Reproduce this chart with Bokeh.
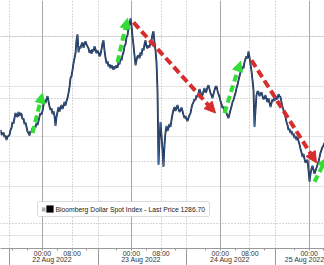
from bokeh.plotting import figure
from bokeh.models import (Range1d, FixedTicker, Grid, Arrow, NormalHead, Label,
                          BoxAnnotation, ColumnDataSource, LinearAxis)
from bokeh.embed import file_html
from bokeh.resources import INLINE

# hours since 22 Aug 2022 00:00
hours = [-11.34, -11.07, -10.80, -10.53, -10.26, -9.99, -9.72, -9.45, -9.18, -8.91,
         -8.64, -8.37, -8.10, -7.83, -7.56, -7.29, -7.02, -6.75, -6.48, -6.21,
         -5.94, -5.67, -5.40, -5.13, -4.86, -4.59, -4.32, -4.05, -3.78, -3.51,
         -3.24, -2.97, -2.70, -2.43, -2.16, -1.89, -1.62, -1.35, -1.08, -0.81,
         -0.54, -0.27, 0.00, 0.27, 0.54, 0.81, 1.08, 1.35, 1.62, 1.89,
         2.16, 2.43, 2.70, 2.97, 3.24, 3.51, 3.78, 4.05, 4.32, 4.59,
         4.86, 5.13, 5.40, 5.67, 5.94, 6.21, 6.48, 6.75, 7.02, 7.29,
         7.56, 7.83, 8.10, 8.37, 8.64, 8.91, 9.18, 9.45, 9.72, 9.99,
         10.26, 10.53, 10.80, 11.07, 11.34, 11.61, 11.88, 12.15, 12.42, 12.69,
         12.96, 13.23, 13.50, 13.77, 14.04, 14.31, 14.58, 14.85, 15.12, 15.39,
         15.66, 15.93, 16.20, 16.47, 16.74, 17.01, 17.28, 17.55, 17.82, 18.09,
         18.36, 18.63, 18.90, 19.17, 19.44, 19.71, 19.98, 20.25, 20.52, 20.79,
         21.06, 21.33, 21.60, 21.87, 22.14, 22.41, 22.68, 22.95, 23.22, 23.49,
         23.76, 24.03, 24.30, 24.57, 24.84, 25.11, 25.38, 25.65, 25.92, 26.19,
         26.46, 26.73, 27.00, 27.27, 27.54, 27.81, 28.08, 28.35, 28.62, 28.89,
         29.16, 29.43, 29.70, 29.97, 30.24, 30.51, 30.78, 31.05, 31.32, 31.59,
         31.86, 32.13, 32.40, 32.67, 32.94, 33.21, 33.48, 33.75, 34.02, 34.29,
         34.56, 34.83, 35.10, 35.37, 35.64, 35.91, 36.18, 36.45, 36.72, 36.99,
         37.26, 37.53, 37.80, 38.07, 38.34, 38.61, 38.88, 39.15, 39.42, 39.69,
         39.96, 40.23, 40.50, 40.77, 41.04, 41.31, 41.58, 41.85, 42.12, 42.39,
         42.66, 42.93, 43.20, 43.47, 43.74, 44.01, 44.28, 44.55, 44.82, 45.09,
         45.36, 45.63, 45.90, 46.17, 46.44, 46.71, 46.98, 47.25, 47.52, 47.79,
         48.06, 48.33, 48.60, 48.87, 49.14, 49.41, 49.68, 49.95, 50.22, 50.49,
         50.76, 51.03, 51.30, 51.57, 51.84, 52.11, 52.38, 52.65, 52.92, 53.19,
         53.46, 53.73, 54.00, 54.27, 54.54, 54.81, 55.08, 55.35, 55.62, 55.89,
         56.16, 56.43, 56.70, 56.97, 57.24, 57.51, 57.78, 58.05, 58.32, 58.59,
         58.86, 59.13, 59.40, 59.67, 59.94, 60.21, 60.48, 60.75, 61.02, 61.29,
         61.56, 61.83, 62.10, 62.37, 62.64, 62.91, 63.18, 63.45, 63.72, 63.99,
         64.26, 64.53, 64.80, 65.07, 65.34, 65.61, 65.88, 66.15, 66.42, 66.69,
         66.96, 67.23, 67.50, 67.77, 68.04, 68.31, 68.58, 68.85, 69.12, 69.39,
         69.66, 69.93, 70.20, 70.47, 70.74, 71.01, 71.28, 71.55, 71.82, 72.09,
         72.36, 72.63, 72.90, 73.17, 73.44, 73.71, 73.98, 74.25, 74.52, 74.79,
         75.06, 75.33, 75.60, 75.87, 76.14]
prices = [1286.25, 1286.05, 1286.09, 1286.15, 1285.97, 1286.03, 1285.85, 1285.99, 1286.01, 1286.05,
          1286.25, 1286.33, 1286.57, 1286.51, 1286.73, 1286.93, 1286.85, 1286.77, 1286.97, 1286.81,
          1286.93, 1286.89, 1286.69, 1286.71, 1286.49, 1286.55, 1286.37, 1286.19, 1286.13, 1286.03,
          1286.21, 1286.15, 1286.33, 1286.27, 1286.41, 1286.35, 1286.53, 1286.45, 1286.61, 1286.79,
          1286.93, 1286.87, 1287.01, 1287.25, 1287.45, 1287.33, 1287.49, 1287.61, 1287.41, 1287.19,
          1287.05, 1287.13, 1286.89, 1287.01, 1286.81, 1286.41, 1286.77, 1286.97, 1287.17, 1286.99,
          1287.13, 1287.25, 1287.09, 1287.21, 1287.37, 1287.23, 1287.41, 1287.53, 1287.73, 1287.97,
          1288.33, 1288.41, 1288.65, 1288.93, 1289.13, 1289.33, 1289.85, 1290.09, 1289.37, 1289.61,
          1289.53, 1289.69, 1289.77, 1289.55, 1289.69, 1289.81, 1289.69, 1289.61, 1289.53, 1289.35,
          1289.45, 1289.31, 1289.49, 1289.41, 1289.61, 1289.49, 1289.33, 1289.43, 1289.37, 1289.21,
          1289.29, 1289.49, 1289.73, 1289.85, 1289.45, 1289.15, 1288.93, 1289.01, 1288.81, 1288.89,
          1288.73, 1288.85, 1288.77, 1288.67, 1288.81, 1288.73, 1288.85, 1288.75, 1288.97, 1288.89,
          1289.13, 1289.05, 1289.25, 1289.37, 1289.61, 1289.69, 1289.97, 1290.05, 1290.33, 1290.49,
          1290.73, 1290.45, 1290.01, 1289.65, 1289.25, 1288.85, 1289.05, 1289.21, 1289.25, 1289.13,
          1289.37, 1289.25, 1289.53, 1289.45, 1289.69, 1289.85, 1289.61, 1289.53, 1289.65, 1289.57,
          1289.77, 1289.85, 1290.09, 1290.21, 1289.77, 1289.45, 1288.97, 1287.85, 1284.85, 1285.85,
          1286.57, 1286.05, 1285.45, 1284.77, 1285.65, 1286.15, 1286.41, 1286.21, 1286.33, 1286.49,
          1286.37, 1286.65, 1286.89, 1287.05, 1287.17, 1287.01, 1287.13, 1287.25, 1287.09, 1286.97,
          1287.05, 1287.15, 1287.01, 1286.85, 1286.73, 1286.81, 1286.69, 1286.61, 1286.73, 1286.85,
          1286.93, 1287.13, 1287.29, 1287.37, 1287.49, 1287.45, 1287.65, 1287.57, 1287.73, 1287.89,
          1287.77, 1287.61, 1287.65, 1287.81, 1287.93, 1287.75, 1287.81, 1287.97, 1288.05, 1287.89,
          1287.73, 1287.65, 1287.53, 1287.69, 1287.85, 1287.97, 1288.01, 1287.83, 1287.69, 1287.57,
          1287.41, 1287.29, 1287.13, 1287.19, 1287.01, 1287.09, 1286.93, 1286.81, 1286.73, 1286.89,
          1287.05, 1287.19, 1287.37, 1287.45, 1287.61, 1287.73, 1287.93, 1288.05, 1288.25, 1288.41,
          1288.57, 1288.65, 1288.81, 1288.73, 1288.97, 1289.11, 1289.21, 1289.13, 1289.41, 1289.17,
          1288.89, 1288.61, 1288.25, 1287.85, 1286.37, 1287.05, 1287.65, 1287.81, 1287.77, 1287.61,
          1287.69, 1287.77, 1287.61, 1287.49, 1287.53, 1287.65, 1287.49, 1287.37, 1287.53, 1287.35,
          1287.17, 1287.33, 1287.49, 1287.41, 1287.53, 1287.45, 1287.61, 1287.49, 1287.69, 1287.61,
          1287.57, 1287.37, 1287.17, 1287.05, 1286.89, 1286.77, 1286.57, 1286.45, 1286.25, 1286.29,
          1286.13, 1286.21, 1286.05, 1286.11, 1285.93, 1286.01, 1285.85, 1285.97, 1285.81, 1285.67,
          1285.49, 1285.35, 1285.17, 1285.29, 1285.09, 1284.93, 1285.01, 1285.05, 1284.65, 1284.17,
          1284.49, 1284.69, 1284.81, 1284.65, 1284.49, 1284.61, 1284.73, 1284.85, 1284.97, 1285.15,
          1285.33, 1285.45, 1285.57, 1285.63, 1285.73]

tick_hours = [0, 8, 24, 32, 48, 56, 72]
tick_labels = ["00:00", "08:00", "00:00", "08:00", "00:00", "08:00", "00:00"]
minor_hours = [-8, -4, 4, 12, 20, 28, 36, 44, 52, 60, 68, 76]
date_hours = [2.6, 26.6, 50.6, 74.6]
date_labels = ["22 Aug 2022", "23 Aug 2022", "24 Aug 2022", "25 Aug 2022"]
price_grid = [1282.5, 1285.0, 1287.5, 1290.0]
day_lines = [0, 24, 48, 72]
dotted_lines = [-9, 8, 15, 32, 39, 56, 63]
separators = [-9, 15, 39, 63]

up_x0 = [-2.70, 20.25, 49.14, 73.44]
up_y0 = [1286.13, 1288.97, 1286.93, 1284.17]
up_x1 = [0.00, 22.95, 53.46, 76.80]
up_y1 = [1287.73, 1290.73, 1289.01, 1285.15]
dn_x0 = [24.57, 56.43]
dn_y0 = [1290.57, 1289.05]
dn_x1 = [46.71, 73.98]
dn_y1 = [1286.93, 1284.93]

legend_text = "Bloomberg Dollar Spot Index - Last Price 1286.70"

FONT = "Liberation Sans"
AXIS_GREY = "#9a9a9a"

p = figure(width=324, height=265, output_backend="svg", toolbar_location=None,
           x_range=Range1d(-11.34, 76.14), y_range=Range1d(1281.49, 1291.45),
           x_axis_location="below", y_axis_location=None,
           min_border_left=0, min_border_right=0, min_border_top=0, min_border_bottom=0)
p.outline_line_color = None
p.background_fill_color = "white"
p.border_fill_color = "white"
p.xgrid.visible = False

# grids
p.add_layout(Grid(dimension=1, ticker=FixedTicker(ticks=price_grid),
                  grid_line_color="#b0b0b0", grid_line_dash="1 2", grid_line_width=1))
p.add_layout(Grid(dimension=0, ticker=FixedTicker(ticks=dotted_lines),
                  grid_line_color="#b0b0b0", grid_line_dash="1 2", grid_line_width=1))
p.add_layout(Grid(dimension=0, ticker=FixedTicker(ticks=day_lines),
                  grid_line_color="#a8a8a8", grid_line_width=1))

# time-of-day axis
ax = p.xaxis[0]
ax.ticker = FixedTicker(ticks=tick_hours, minor_ticks=minor_hours)
ax.major_label_overrides = {h: t for h, t in zip(tick_hours, tick_labels)}
ax.axis_line_color = AXIS_GREY
ax.major_tick_line_color = AXIS_GREY
ax.minor_tick_line_color = AXIS_GREY
ax.major_tick_out = 2
ax.major_tick_in = 0
ax.minor_tick_out = 2
ax.minor_tick_in = 0
ax.major_label_standoff = -1
ax.major_label_text_font = FONT
ax.major_label_text_font_size = "7px"
ax.major_label_text_color = "#333333"

# date axis (day separators drawn as its minor ticks)
ax2 = LinearAxis(ticker=FixedTicker(ticks=date_hours, minor_ticks=separators),
                 major_label_overrides={h: t for h, t in zip(date_hours, date_labels)},
                 axis_line_color=None, major_tick_line_color=None,
                 major_tick_in=0, major_tick_out=6,
                 minor_tick_line_color=AXIS_GREY, minor_tick_in=11, minor_tick_out=6,
                 major_label_standoff=-10, major_label_text_font=FONT,
                 major_label_text_font_size="7px", major_label_text_color="#333333")
p.add_layout(ax2, "below")

# price line
src = ColumnDataSource(dict(h=hours, p=prices))
p.line("h", "p", source=src, line_color="#0f1c36", line_width=1.8)
p.line("h", "p", source=src, line_color="#4f7fbf", line_width=0.6)

# arrows
up_src = ColumnDataSource(dict(x0=up_x0, y0=up_y0, x1=up_x1, y1=up_y1))
dn_src = ColumnDataSource(dict(x0=dn_x0, y0=dn_y0, x1=dn_x1, y1=dn_y1))
GREEN = "#35dc35"
RED = "#d92c2c"
p.add_layout(Arrow(x_start="x0", y_start="y0", x_end="x1", y_end="y1", source=up_src,
                   line_color=GREEN, line_width=4, line_dash="7 4",
                   end=NormalHead(size=10, fill_color=GREEN, line_color=GREEN)))
p.add_layout(Arrow(x_start="x0", y_start="y0", x_end="x1", y_end="y1", source=dn_src,
                   line_color=RED, line_width=4, line_dash="8 4",
                   end=NormalHead(size=11, fill_color=RED, line_color=RED)))

# legend box
p.add_layout(BoxAnnotation(left=37, right=209, bottom=32, top=47,
                           left_units="screen", right_units="screen",
                           top_units="screen", bottom_units="screen",
                           fill_color="white", fill_alpha=1, line_color="#8c8c8c",
                           line_width=1, border_radius=2, level="overlay"))
p.add_layout(BoxAnnotation(left=41.5, right=45, bottom=37, top=41,
                           left_units="screen", right_units="screen",
                           top_units="screen", bottom_units="screen",
                           fill_color="#b0b0b0", fill_alpha=1, line_color="#9a9a9a",
                           line_width=0.5, level="overlay"))
p.add_layout(BoxAnnotation(left=46, right=53, bottom=36, top=43,
                           left_units="screen", right_units="screen",
                           top_units="screen", bottom_units="screen",
                           fill_color="black", fill_alpha=1, line_color="black",
                           line_width=0.5, level="overlay"))
p.add_layout(Label(x=55, y=39.5, x_units="screen", y_units="screen", text=legend_text,
                   text_baseline="middle", text_font=FONT, text_font_size="6.8px",
                   text_color="#222222", level="overlay"))

open("out.html", "w").write(file_html(p, INLINE))
